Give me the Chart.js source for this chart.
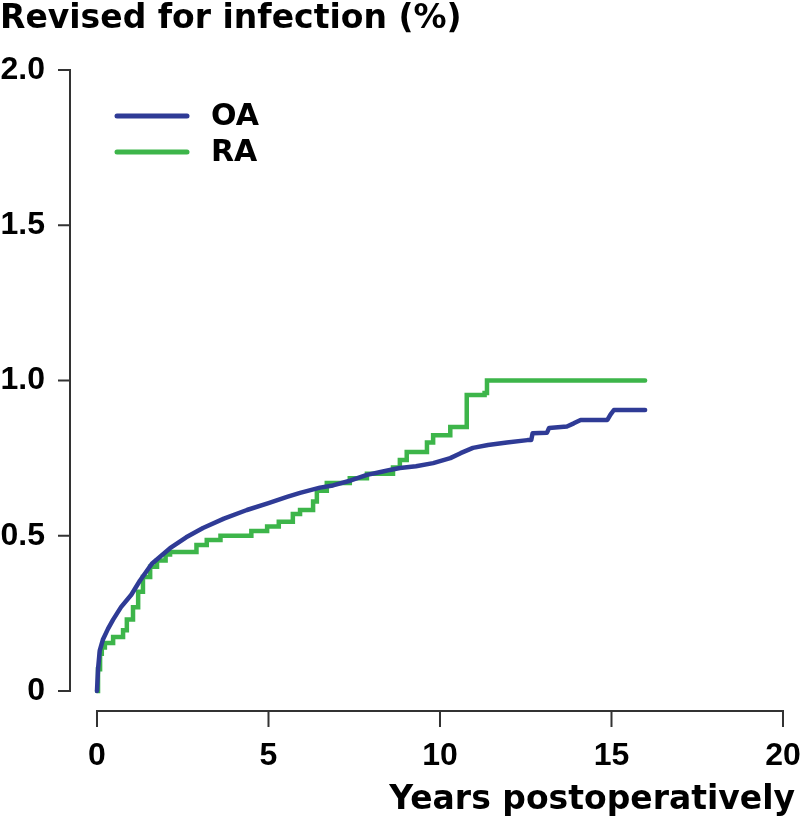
<!DOCTYPE html>
<html>
<head>
<meta charset="utf-8">
<script src="https://cdn.jsdelivr.net/npm/chart.js@4.4.1/dist/chart.umd.min.js"></script>
<style>
  html, body { margin: 0; padding: 0; background: #fff; }
  #wrap { width: 800px; height: 827px; position: relative; }
</style>
</head>
<body>
<div id="wrap"><canvas id="c"></canvas></div>
<script>
// ---- Data ----
const seriesNames = ['OA', 'RA'];
const oaYears = [0, 0.03, 0.08, 0.17, 0.32, 0.47, 0.7, 1.0, 1.25, 1.6, 2.13, 2.6, 3.09, 3.7, 4.37, 5.0, 5.54, 5.92, 6.5, 6.88, 7.4, 7.87, 8.3, 8.54, 8.83, 9.3, 9.8, 10.3, 10.6, 10.96, 11.4, 11.95, 12.55, 12.66, 12.7, 13.12, 13.18, 13.7, 13.9, 14.1, 14.88, 14.97, 15.07, 15.98];
const oaValues = [0, 0.07, 0.13, 0.165, 0.2, 0.23, 0.27, 0.31, 0.355, 0.41, 0.46, 0.495, 0.525, 0.555, 0.583, 0.605, 0.625, 0.638, 0.655, 0.662, 0.678, 0.696, 0.706, 0.712, 0.718, 0.724, 0.734, 0.75, 0.766, 0.783, 0.792, 0.8, 0.808, 0.808, 0.83, 0.832, 0.847, 0.852, 0.862, 0.873, 0.873, 0.89, 0.905, 0.905];
const raYears = [0, 0.03, 0.09, 0.14, 0.23, 0.47, 0.76, 0.87, 1.05, 1.2, 1.34, 1.55, 1.75, 2.0, 2.13, 2.71, 2.9, 3.2, 3.6, 4.17, 4.5, 4.96, 5.3, 5.71, 5.92, 6.2, 6.3, 6.41, 6.7, 7.37, 7.87, 8.3, 8.63, 8.83, 9.03, 9.62, 9.8, 10.3, 10.73, 10.78, 11.3, 11.37, 15.98];
const raValues = [0, 0.07, 0.12, 0.14, 0.155, 0.174, 0.196, 0.23, 0.27, 0.32, 0.367, 0.4, 0.42, 0.44, 0.448, 0.448, 0.47, 0.486, 0.5, 0.5, 0.515, 0.53, 0.545, 0.57, 0.583, 0.583, 0.61, 0.645, 0.67, 0.685, 0.7, 0.7, 0.72, 0.744, 0.77, 0.8, 0.824, 0.85, 0.85, 0.953, 0.96, 1.0, 1.0];
const xTicks = [0, 5, 10, 15, 20];
const yTicks = [0, 0.5, 1.0, 1.5, 2.0];
const yTickLabels = ['0', '0.5', '1.0', '1.5', '2.0'];
const colors = ['#2f3b96', '#3db54a'];

const toPts = (xs, ys) => xs.map((x, i) => ({ x: x, y: ys[i] }));

const tickFont = { family: '"Liberation Sans", Arial, sans-serif', size: 32, weight: 'bold' };
const titleFont = { family: '"DejaVu Sans", sans-serif', size: 33, weight: 'bold' };

// R-style detached axes + legend drawn with the chart's scales
const rAxes = {
  id: 'rAxes',
  afterDraw(chart) {
    const ctx = chart.ctx;
    const xs = chart.scales.x, ys = chart.scales.y;
    const ax = chart.chartArea.left;
    const ay = chart.chartArea.bottom;
    ctx.save();
    ctx.strokeStyle = '#333';
    ctx.lineWidth = 2;
    ctx.lineCap = 'butt';
    // y axis
    ctx.beginPath();
    ctx.moveTo(ax, ys.getPixelForValue(yTicks[yTicks.length - 1]));
    ctx.lineTo(ax, ys.getPixelForValue(yTicks[0]));
    yTicks.forEach(v => {
      const p = ys.getPixelForValue(v);
      ctx.moveTo(ax + 1, p);
      ctx.lineTo(ax - 12, p);
    });
    ctx.stroke();
    // x axis
    ctx.beginPath();
    ctx.moveTo(xs.getPixelForValue(xTicks[0]), ay);
    ctx.lineTo(xs.getPixelForValue(xTicks[xTicks.length - 1]), ay);
    xTicks.forEach(v => {
      const p = xs.getPixelForValue(v);
      ctx.moveTo(p, ay - 1);
      ctx.lineTo(p, ay + 16);
    });
    ctx.stroke();
    // legend
    const ly = [116, 152];
    chart.data.datasets.forEach((ds, i) => {
      ctx.strokeStyle = ds.borderColor;
      ctx.lineWidth = 5;
      ctx.lineCap = 'round';
      ctx.beginPath();
      ctx.moveTo(117, ly[i]);
      ctx.lineTo(187, ly[i]);
      ctx.stroke();
      ctx.fillStyle = '#000';
      ctx.font = 'bold 30px "DejaVu Sans", sans-serif';
      ctx.textBaseline = 'middle';
      ctx.textAlign = 'left';
      ctx.fillText(ds.label, 211, ly[i] + 1);
    });
    ctx.restore();
  }
};

new Chart(document.getElementById('c'), {
  type: 'line',
  data: {
    datasets: [
      { label: seriesNames[0], data: toPts(oaYears, oaValues), borderColor: colors[0], backgroundColor: colors[0], borderWidth: 4.5, stepped: false, tension: 0, borderJoinStyle: 'round', borderCapStyle: 'round', pointRadius: 0, fill: false },
      { label: seriesNames[1], data: toPts(raYears, raValues), borderColor: colors[1], backgroundColor: colors[1], borderWidth: 4.5, stepped: true, borderCapStyle: 'round', pointRadius: 0, fill: false }
    ]
  },
  options: {
    responsive: true,
    maintainAspectRatio: false,
    animation: false,
    devicePixelRatio: 1,
    layout: { padding: { left: 0, right: 5, top: 0, bottom: 0 } },
    plugins: {
      legend: { display: false },
      tooltip: { enabled: false },
      title: {
        display: true,
        text: 'Revised for infection (%)',
        align: 'start',
        color: '#000',
        font: titleFont,
        padding: { top: 0, bottom: 30.4 }
      }
    },
    scales: {
      x: {
        type: 'linear',
        min: -0.787,
        max: 20.35,
        grid: { display: false, drawTicks: false },
        border: { display: false },
        afterBuildTicks: s => { s.ticks = xTicks.map(v => ({ value: v })); },
        afterFit: s => { s.height = 116; s.paddingLeft = 0; s.paddingRight = 0; },
        ticks: { color: '#000', font: tickFont, padding: 26, maxRotation: 0, autoSkip: false,
                 callback: v => String(v) },
        title: {
          display: true,
          text: 'Years postoperatively',
          align: 'end',
          color: '#000',
          font: titleFont,
          padding: { top: 0, bottom: 7 }
        }
      },
      y: {
        type: 'linear',
        min: -0.0644,
        max: 2.0,
        grid: { display: false, drawTicks: false },
        border: { display: false },
        afterBuildTicks: s => { s.ticks = yTicks.map(v => ({ value: v })); },
        afterFit: s => { s.width = 70; s.paddingTop = 0; s.paddingBottom = 0; },
        ticks: { color: '#000', font: tickFont, padding: 25, autoSkip: false,
                 callback: v => yTickLabels[yTicks.indexOf(v)] }
      }
    }
  },
  plugins: [rAxes]
});
</script>
</body>
</html>
